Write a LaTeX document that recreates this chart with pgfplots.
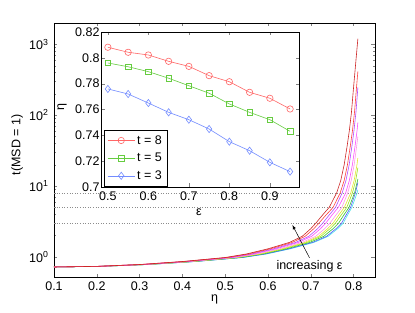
\documentclass[border=0pt]{standalone}
\usepackage{pgfplots}
\pgfplotsset{compat=1.18}
\usepackage{fontspec}
\setmainfont{Liberation Sans}
\definecolor{c50}{rgb}{0.30,0.90,0.90}
\definecolor{c55}{rgb}{0.30,0.35,1.00}
\definecolor{c60}{rgb}{0.20,0.75,0.20}
\definecolor{c65}{rgb}{0.60,0.90,0.10}
\definecolor{c70}{rgb}{0.90,0.90,0.20}
\definecolor{c75}{rgb}{1.00,0.60,0.90}
\definecolor{c80}{rgb}{1.00,0.30,1.00}
\definecolor{c85}{rgb}{0.70,0.30,1.00}
\definecolor{c90}{rgb}{1.00,0.25,0.25}
\definecolor{c95}{rgb}{0.80,0.15,0.15}
\definecolor{ired}{rgb}{1.00,0.40,0.40}
\definecolor{igreen}{rgb}{0.40,0.80,0.25}
\definecolor{iblue}{rgb}{0.45,0.55,1.00}
\newcommand{\fs}{\fontsize{12.5}{15}\selectfont}
\begin{document}
\begin{tikzpicture}[x=1pt,y=1pt]
\path[use as bounding box] (-54,-36) rectangle (361,277);
\begin{axis}[
  at={(0pt,0pt)}, anchor=south west,
  scale only axis, width=321pt, height=254pt,
  xmin=0.1, xmax=0.85, ymode=log, ymin=0.52, ymax=2000,
  xtick={0.1,0.2,0.3,0.4,0.5,0.6,0.7,0.8},
  ytick={1,10,100,1000},
  yticklabels={10\textsuperscript{0},10\textsuperscript{1},10\textsuperscript{2},10\textsuperscript{3}},
  tick align=inside, xtick pos=both, ytick pos=both,
  major tick length=3.5pt, minor tick length=2pt,
  /pgf/number format/assume math mode=true,
  tick label style={font=\fs},
  label style={font=\fs},
  xticklabel style={yshift=-1.5pt},
  yticklabel style={xshift=-2pt},
  xlabel={η}, ylabel={t(MSD = 1)},
  xlabel style={at={(axis description cs:0.5,-0.09)}, anchor=center},
  ylabel style={at={(axis description cs:-0.115,0.52)}, anchor=center},
  axis line style={line width=0.6pt},
]
\addplot[black!45, dotted, line width=0.6pt] coordinates {(0.1,8)(0.85,8)};
\addplot[black!45, dotted, line width=0.6pt] coordinates {(0.1,5)(0.85,5)};
\addplot[black!45, dotted, line width=0.6pt] coordinates {(0.1,3)(0.85,3)};
% eps = 0.50
\addplot[c50, line width=0.6pt] coordinates {(0.1,0.72)(0.2105,0.735)(0.3209,0.78)(0.4314,0.86)(0.5418,0.98)(0.5971,1.1)(0.6523,1.3)(0.7075,1.6)(0.7407,1.95)(0.7628,2.5)(0.7759,3)(0.7860,3.9)(0.7960,5)(0.8082,8)(0.81,8.9)};
% eps = 0.55
\addplot[c55, line width=0.6pt] coordinates {(0.1,0.72)(0.2098,0.735)(0.3196,0.78)(0.4295,0.86)(0.5393,0.98)(0.5942,1.1)(0.6491,1.3)(0.7040,1.6)(0.7370,1.95)(0.7589,2.5)(0.7720,3)(0.7826,3.9)(0.7931,5)(0.8043,8)(0.81,11.2)};
% eps = 0.60
\addplot[c60, line width=0.6pt] coordinates {(0.1,0.72)(0.2087,0.735)(0.3174,0.78)(0.4260,0.86)(0.5347,0.98)(0.5891,1.1)(0.6434,1.3)(0.6977,1.6)(0.7303,1.95)(0.7521,2.5)(0.7650,3)(0.7772,3.9)(0.7893,5)(0.8022,8)(0.8094,12)(0.81,12.6)};
% eps = 0.65
\addplot[c65, line width=0.6pt] coordinates {(0.1,0.72)(0.2075,0.735)(0.3150,0.78)(0.4225,0.86)(0.5300,0.98)(0.5838,1.1)(0.6375,1.3)(0.6913,1.6)(0.7235,1.95)(0.7450,2.5)(0.7578,3)(0.7710,3.9)(0.7842,5)(0.7973,8)(0.8049,12)(0.81,18.2)};
% eps = 0.70
\addplot[c70, line width=0.6pt] coordinates {(0.1,0.72)(0.2066,0.735)(0.3131,0.78)(0.4197,0.86)(0.5263,0.98)(0.5796,1.1)(0.6329,1.3)(0.6861,1.6)(0.7181,1.95)(0.7394,2.5)(0.7521,3)(0.7653,3.9)(0.7784,5)(0.7934,8)(0.8013,12)(0.8079,20)(0.81,25)};
% eps = 0.75
\addplot[c75, line width=0.6pt] coordinates {(0.1,0.72)(0.2054,0.735)(0.3108,0.78)(0.4162,0.86)(0.5216,0.98)(0.5743,1.1)(0.6270,1.3)(0.6797,1.6)(0.7113,1.95)(0.7324,2.5)(0.7449,3)(0.7588,3.9)(0.7726,5)(0.7862,8)(0.7945,12)(0.8013,20)(0.8073,37)(0.81,50)};
% eps = 0.80
\addplot[c80, line width=0.6pt] coordinates {(0.1,0.72)(0.2038,0.735)(0.3076,0.78)(0.4114,0.86)(0.5152,0.98)(0.5671,1.1)(0.6190,1.3)(0.6709,1.6)(0.7020,1.95)(0.7227,2.5)(0.7351,3)(0.7497,3.9)(0.7643,5)(0.7815,8)(0.7901,12)(0.7972,20)(0.8035,37)(0.8080,60)(0.81,79)};
% eps = 0.85
\addplot[c85, line width=0.6pt] coordinates {(0.1,0.72)(0.2026,0.735)(0.3053,0.78)(0.4079,0.86)(0.5106,0.98)(0.5619,1.1)(0.6132,1.3)(0.6646,1.6)(0.6954,1.95)(0.7159,2.5)(0.7281,3)(0.7430,3.9)(0.7578,5)(0.7733,8)(0.7822,12)(0.7897,20)(0.7962,37)(0.8008,60)(0.8055,110)(0.81,246)};
% eps = 0.90
\addplot[c90, line width=0.6pt] coordinates {(0.1,0.72)(0.2012,0.735)(0.3024,0.78)(0.4035,0.86)(0.5047,0.98)(0.5553,1.1)(0.6059,1.3)(0.6565,1.6)(0.6868,1.95)(0.7071,2.5)(0.7191,3)(0.7356,3.9)(0.7521,5)(0.7687,8)(0.7780,12)(0.7857,20)(0.7924,37)(0.7973,60)(0.8021,110)(0.8069,250)(0.81,414)};
% eps = 0.95
\addplot[c95, line width=0.6pt] coordinates {(0.1,0.72)(0.2,0.735)(0.3,0.78)(0.4,0.86)(0.5,0.98)(0.55,1.1)(0.6,1.3)(0.65,1.6)(0.68,1.95)(0.70,2.5)(0.7119,3)(0.7275,3.9)(0.7431,5)(0.7604,8)(0.77,12)(0.778,20)(0.785,37)(0.79,60)(0.795,110)(0.80,250)(0.805,550)(0.81,1200)};
\draw[->, >=latex, line width=0.5pt] (axis cs:0.697,0.97) -- (axis cs:0.657,2.82);
\node[font=\fs] at (axis cs:0.697,0.747) {increasing ε};
\end{axis}
\begin{axis}[
  at={(47pt,90pt)}, anchor=south west,
  scale only axis, width=198pt, height=155pt,
  xmin=0.483, xmax=0.972, ymin=0.7, ymax=0.82,
  xtick={0.5,0.6,0.7,0.8,0.9},
  ytick={0.7,0.72,0.74,0.76,0.78,0.8,0.82},
  tick align=inside, xtick pos=both, ytick pos=both,
  major tick length=3.5pt,
  axis background/.style={fill=white},
  /pgf/number format/assume math mode=true,
  tick label style={font=\fs},
  label style={font=\fs},
  xlabel={ε}, ylabel={η},
  xlabel style={at={(axis description cs:0.495,-0.161)}, anchor=center},
  ylabel style={at={(axis description cs:-0.197,0.516)}, anchor=center},
  yticklabel style={xshift=2pt},
  xticklabel style={yshift=-1pt},
  axis line style={line width=0.6pt},
  legend style={at={(0.015,0.005)}, anchor=south west, font=\fs,
    draw=black, line width=0.6pt, row sep=3.5pt, inner xsep=3pt, inner ysep=3pt},
  legend cell align=left,
  legend image code/.code={\draw[mark repeat=2,mark phase=2,#1] plot coordinates {(0cm,0cm) (0.48cm,0cm) (0.96cm,0cm)};},
]
\addplot[ired, line width=0.6pt, mark=o, mark size=3.2pt, mark options={solid}] coordinates {(0.5,0.8082)(0.55,0.8043)(0.6,0.8022)(0.65,0.7973)(0.7,0.7934)(0.75,0.7862)(0.8,0.7815)(0.85,0.7733)(0.9,0.7687)(0.95,0.7604)};
\addlegendentry{t = 8}
\addplot[igreen, line width=0.6pt, mark=square, mark size=2.8pt] coordinates {(0.5,0.796)(0.55,0.7931)(0.6,0.7893)(0.65,0.7842)(0.7,0.7784)(0.75,0.7726)(0.8,0.7643)(0.85,0.7578)(0.9,0.7521)(0.95,0.7431)};
\addlegendentry{t = 5}
\addplot[iblue, line width=0.6pt, mark=diamond, mark size=3.6pt] coordinates {(0.5,0.7759)(0.55,0.772)(0.6,0.765)(0.65,0.7578)(0.7,0.7521)(0.75,0.7449)(0.8,0.7351)(0.85,0.7281)(0.9,0.7191)(0.95,0.7119)};
\addlegendentry{t = 3}
\end{axis}
\end{tikzpicture}
\end{document}
